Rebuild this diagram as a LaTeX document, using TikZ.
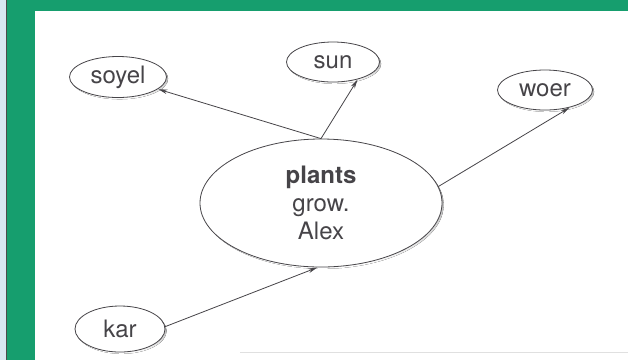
\documentclass[tikz,border=0pt]{standalone}
\usepackage{fontspec}
\setmainfont{TeX Gyre Heros}
\usetikzlibrary{arrows.meta,shapes.geometric}
\definecolor{frame}{RGB}{22,158,110}
\definecolor{strip}{RGB}{214,232,242}
\definecolor{ink}{RGB}{70,68,72}
\definecolor{shade}{RGB}{120,118,125}
\tikzset{
  bubble/.style={ellipse, draw=ink, line width=0.8pt, fill=white, text=ink,
    inner sep=0pt, font=\fontsize{24}{26}\selectfont},
  arr/.style={draw=ink, line width=0.8pt, -{Stealth[length=9pt,width=4.5pt]}, shorten >=0.5pt},
}
% shadow ring under a bubble, offset to the lower right
\newcommand{\ringshadow}[4]{%
  \fill[shade] (#1+1.6,#2+1.8) ellipse [x radius=#3, y radius=#4];}
\begin{document}
\begin{tikzpicture}[x=1pt, y=-1pt]
\useasboundingbox (0,0) rectangle (628,360);
% frame
\fill[strip] (0,0) rectangle (6,360);
\fill[frame] (6,0) rectangle (628,360);
\draw[black!70, line width=1.2pt] (6.6,0) -- (6.6,360);
\fill[white] (35,11) rectangle (628,360);
\draw[black!12, line width=0.8pt] (240,352) -- (628,352);
% shadows
\ringshadow{118}{77}{48.5}{20.5}
\ringshadow{333}{62}{46.5}{20}
\ringshadow{545}{90}{47.5}{20}
\ringshadow{120}{329}{45}{23}
\ringshadow{321}{203}{121}{64}
% bubbles
\node[bubble, minimum width=97pt, minimum height=41pt] (soyel) at (118,77) {soyel};
\node[bubble, minimum width=93pt, minimum height=40pt] (sun) at (333,62) {sun};
\node[bubble, minimum width=95pt, minimum height=40pt] (woer) at (545,90) {woer};
\node[bubble, minimum width=90pt, minimum height=46pt] (kar) at (120,329) {kar};
\node[bubble, minimum width=242pt, minimum height=128pt, align=center,
      font=\fontsize{24}{28}\selectfont] (plants) at (321,203)
  {\textbf{plants}\\grow.\\Alex};
% connectors
\draw[arr] (plants.north) -- (soyel);
\draw[arr] (plants.north) -- (sun.-35);
\draw[arr] (plants.8) -- (woer.-35);
\draw[arr] (kar.3) -- (plants.-93);
\end{tikzpicture}
\end{document}
